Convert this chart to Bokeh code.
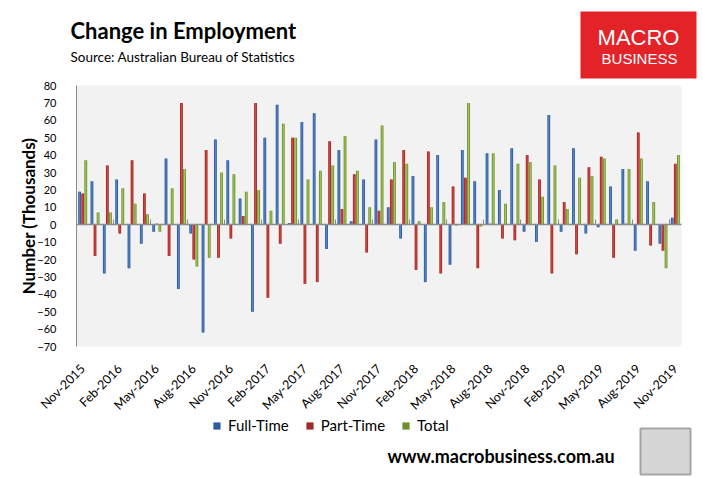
import math

from bokeh.core.properties import value
from bokeh.embed import file_html
from bokeh.models import (BoxAnnotation, ColumnDataSource, FixedTicker, Legend,
                          LegendItem, LinearAxis, Range1d)
from bokeh.plotting import figure
from bokeh.resources import INLINE
from bokeh.transform import dodge

# monthly change in employment, thousands
months = ["Nov-2015", "Dec-2015", "Jan-2016", "Feb-2016", "Mar-2016", "Apr-2016",
          "May-2016", "Jun-2016", "Jul-2016", "Aug-2016", "Sep-2016", "Oct-2016",
          "Nov-2016", "Dec-2016", "Jan-2017", "Feb-2017", "Mar-2017", "Apr-2017",
          "May-2017", "Jun-2017", "Jul-2017", "Aug-2017", "Sep-2017", "Oct-2017",
          "Nov-2017", "Dec-2017", "Jan-2018", "Feb-2018", "Mar-2018", "Apr-2018",
          "May-2018", "Jun-2018", "Jul-2018", "Aug-2018", "Sep-2018", "Oct-2018",
          "Nov-2018", "Dec-2018", "Jan-2019", "Feb-2019", "Mar-2019", "Apr-2019",
          "May-2019", "Jun-2019", "Jul-2019", "Aug-2019", "Sep-2019", "Oct-2019",
          "Nov-2019"]

full_time = [19, 25, -28, 26, -25, -11, -4, 38, -37, -5, -62, 49,
             37, 15, -50, 50, 69, 1, 59, 64, -14, 43, 2, 26,
             49, 10, -8, 28, -33, 40, -23, 43, 25, 41, 20, 44,
             -4, -10, 63, -4, 44, -5, -1.5, 22, 32, -15, 25, -11,
             4]
part_time = [18, -18, 34, -5, 37, 18, 0.5, -18, 70, -20, 43, -19,
             -8, 5, 70, -42, -11, 50, -34, -33, 48, 9, 29, -16,
             8, 26, 43, -26, 42, -28, 22, 27, -25, 0.5, -8, -9,
             40, 26, -28, 13, -17, 33, 39, -19, 0.5, 53, -12, -15,
             35]
total = [37, 7, 7, 21, 12, 6, -4, 21, 32, -24, -19, 30,
         29, 19, 20, 8, 58, 50, 26, 31, 34, 51, 31, 10,
         57, 36, 35, 2, 10, 13, -0.5, 70, -1, 41, 12, 35,
         36, 16, 34, 9, 27, 28, 38, 3, 32, 38, 13, -25,
         40]

y_lo, y_hi = -70, 80
y_ticks = list(range(y_lo, y_hi + 1, 10))
label_every = 3

# page layout in pixels: the whole canvas is the frame, the plot area sits inside it
W, H = 703, 478
AREA_L, AREA_R, AREA_T, AREA_B = 76, 681, 85, 346
n = len(months)
kx = (AREA_R - AREA_L) / n
ky = (AREA_B - AREA_T) / (y_hi - y_lo)

series = [("ft", "Full-Time", -0.25, "#2F5C9C", "#5585C8"),
          ("pt", "Part-Time", 0.0, "#A02C29", "#D4463F"),
          ("tot", "Total", 0.25, "#6F9030", "#A2C855")]
AXIS_GREY = "#8C8C8C"

p = figure(width=W, height=H, output_backend="svg", toolbar_location=None,
           x_range=Range1d(-0.5 - AREA_L / kx, n - 0.5 + (W - AREA_R) / kx),
           y_range=Range1d(y_lo - (H - AREA_B) / ky, y_hi + AREA_T / ky),
           x_axis_type=None, y_axis_type=None, title=None, min_border=0,
           min_border_left=0, min_border_right=0, min_border_top=0,
           min_border_bottom=0, outline_line_color=None,
           background_fill_color="white", border_fill_color="white")
p.grid.visible = False
# page-pixel coordinates for the decorations
p.extra_x_ranges = {"px": Range1d(0, W)}
p.extra_y_ranges = {"px": Range1d(H, 0)}

# grey plot area
p.add_layout(BoxAnnotation(left=-0.5, right=n - 0.5, bottom=y_lo, top=y_hi,
                           fill_color="#F2F2F2", fill_alpha=1, line_color=None,
                           level="underlay"))

src = ColumnDataSource(dict(x=list(range(n)), ft=full_time, pt=part_time, tot=total))
items = []
for col, name, off, dark, light in series:
    outer = p.vbar(x=dodge("x", off), top=col, width=0.23, source=src,
                   fill_color=dark, line_color=None)
    p.vbar(x=dodge("x", off), top=col, width=0.09, source=src,
           fill_color=light, line_color=None)
    items.append(LegendItem(label=name, renderers=[outer]))

# category labels along the bottom of the plot area
label_pos = list(range(0, n, label_every))
xlab = LinearAxis(fixed_location=y_lo, ticker=FixedTicker(ticks=label_pos),
                  major_label_overrides={i: months[i] for i in label_pos},
                  major_label_orientation=math.pi / 4, axis_line_color=None,
                  major_tick_line_color=None, minor_tick_line_color=None,
                  major_label_text_font="Lato", major_label_text_font_size="12.5px",
                  major_label_text_color="black", major_label_standoff=14)
p.add_layout(xlab, "below")

# zero line with its small upward ticks between groups of months
tick_x = [i - 0.5 for i in range(label_every, n, label_every)]
xzero = LinearAxis(fixed_location=0, bounds=(-0.5, n - 0.5),
                   ticker=FixedTicker(ticks=tick_x), axis_line_color=AXIS_GREY,
                   axis_line_width=1.5, major_tick_line_color=AXIS_GREY,
                   major_tick_in=5, major_tick_out=0, minor_tick_line_color=None,
                   major_label_text_color=None)
p.add_layout(xzero, "below")

yax = LinearAxis(fixed_location=-0.5, bounds=(y_lo, y_hi),
                 ticker=FixedTicker(ticks=y_ticks), axis_line_color=AXIS_GREY,
                 major_tick_line_color=None, minor_tick_line_color=None,
                 major_label_text_font="Lato",
                 major_label_text_font_size="11px", major_label_text_color="black",
                 major_label_standoff=14, axis_label="Number (Thousands)",
                 axis_label_text_font="Lato", axis_label_text_font_style="bold",
                 axis_label_text_font_size="17px", axis_label_text_color="black",
                 axis_label_standoff=-5)
p.add_layout(yax, "left")

legend = Legend(items=items, orientation="horizontal", location=(212, H - 434),
                glyph_width=9, glyph_height=9, label_text_font="Lato",
                label_text_font_size="15px", label_text_color="black", spacing=16,
                label_standoff=7, padding=0, margin=0, border_line_color=None,
                background_fill_alpha=0)
p.add_layout(legend)


def page_text(x, y, text, size, bold=False, font="Lato", color="black", align="left"):
    p.text(x=[x], y=[y], text=[text], text_font=value(font), text_font_size=size,
           text_font_style="bold" if bold else "normal", text_color=color,
           text_align=align, text_baseline="middle",
           x_range_name="px", y_range_name="px")


page_text(70, 30, "Change in Employment", "22px", bold=True)
page_text(70, 56, "Source: Australian Bureau of Statistics", "13.5px")

# logo
p.quad(left=[580], right=[696], top=[11], bottom=[78], fill_color="#E42329",
       line_color=None, x_range_name="px", y_range_name="px")
page_text(638, 37, "MACRO", "22px", font="Liberation Sans", color="white", align="center")
page_text(639, 58, "BUSINESS", "15px", font="Liberation Sans", color="white",
          align="center")

page_text(387, 455, "www.macrobusiness.com.au", "18px", bold=True)
p.quad(left=[640], right=[690], top=[428], bottom=[474], fill_color="#D6D6D6",
       line_color="#A6A6A6", line_width=2, x_range_name="px", y_range_name="px")

open("out.html", "w").write(file_html(p, INLINE))
